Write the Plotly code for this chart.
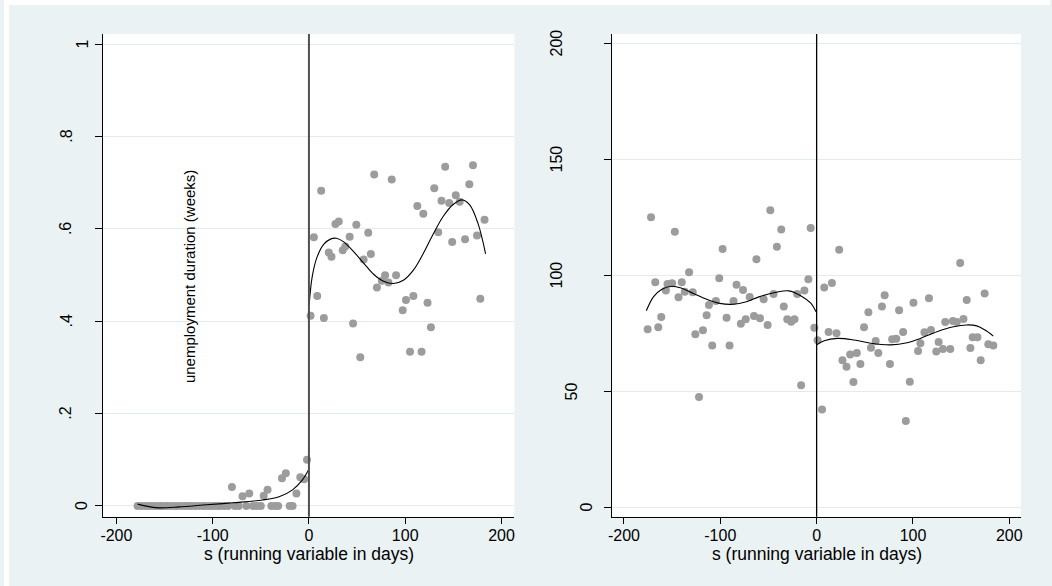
import plotly.graph_objects as go

# ---------------- data: left panel ----------------
s_left_neg = [-178, -174, -170, -167, -163, -159, -155, -152, -148, -144, -140, -137,
              -133, -129, -125, -122, -118, -114, -110, -107, -103, -99, -95, -92,
              -88, -84, -80, -77, -73, -69, -65, -62, -58, -54, -50, -47,
              -43, -39, -35, -32, -28, -24, -20, -17, -13, -9, -5, -2]
y_left_neg = [0, 0, 0, 0, 0, 0, 0, 0, 0, 0, 0, 0,
              0, 0, 0, 0, 0, 0, 0, 0, 0, 0, 0, 0,
              0, 0, 0.041, 0, 0, 0.021, 0, 0.027, 0, 0, 0, 0.022,
              0.035, 0, 0, 0, 0.060, 0.071, 0, 0, 0.027, 0.062, 0.058, 0.100]

s_left_pos = [1.7, 5.1, 8.6, 12.7, 15.5, 20.6, 23.4, 27.5, 31.0, 35.1, 37.8, 42.3,
              45.8, 49.2, 53.3, 56.8, 61.6, 64.3, 67.8, 70.6, 75.7, 79.1, 82.6, 86.0,
              90.5, 97.4, 100.8, 105.0, 108.5, 112.6, 117.0, 118.8, 123.2, 126.7, 130.2, 134.3,
              137.7, 141.5, 145.7, 148.8, 152.5, 156.6, 162.2, 166.6, 170.4, 174.6, 178.0, 182.4]
y_left_pos = [0.412, 0.582, 0.455, 0.683, 0.407, 0.549, 0.540, 0.611, 0.616, 0.554, 0.562, 0.583,
              0.395, 0.609, 0.322, 0.534, 0.592, 0.546, 0.718, 0.473, 0.488, 0.500, 0.484, 0.707,
              0.500, 0.424, 0.446, 0.334, 0.455, 0.650, 0.334, 0.633, 0.440, 0.387, 0.688, 0.593,
              0.661, 0.735, 0.656, 0.572, 0.673, 0.659, 0.578, 0.697, 0.738, 0.586, 0.449, 0.620]

fit_left_neg_x = [-178, -165, -155, -135, -110, -79, -48, -31, -17, -7, -0.5]
fit_left_neg_y = [0.004, -0.002, -0.004, -0.002, 0.002, 0.007, 0.013, 0.020, 0.035, 0.056, 0.078]
fit_left_pos_x = [0.2, 3.4, 8.6, 15.5, 22.3, 28.5, 36.1, 46.4, 56.8, 67.1, 77.4, 87.8,
                  98.1, 108.5, 118.8, 129.1, 139.4, 149.8, 159.1, 167.0, 175.6, 183.5]
fit_left_pos_y = [0.435, 0.497, 0.540, 0.567, 0.578, 0.580, 0.572, 0.551, 0.526, 0.502, 0.487, 0.482,
                  0.489, 0.511, 0.547, 0.589, 0.627, 0.653, 0.663, 0.652, 0.612, 0.546]

# ---------------- data: right panel ----------------
s_right_neg = [-175.4, -171.9, -167.5, -164.4, -161.3, -156.5, -154.8, -150.0, -147.2, -143.4,
               -140.0, -136.9, -132.4, -128.6, -125.9, -122.1, -118.0, -114.2, -111.8, -108.4,
               -104.6, -101.1, -97.6, -93.5, -90.4, -86.3, -83.2, -78.7, -76.4, -73.6,
               -69.5, -65.0, -62.5, -58.8, -55.0, -50.9, -48.1, -44.7, -41.3, -36.7,
               -34.1, -30.5, -26.4, -23.0, -20.2, -16.1, -12.7, -8.6, -6.2, -2.4]
y_right_neg = [76.7, 125.0, 97.0, 77.6, 82.0, 93.4, 96.3, 96.6, 118.8, 90.5,
               97.0, 92.9, 101.3, 92.7, 74.6, 47.5, 76.3, 82.8, 87.2, 69.7,
               88.9, 98.7, 111.3, 81.7, 69.7, 88.9, 95.9, 79.1, 93.7, 81.0,
               90.6, 82.5, 106.9, 81.5, 89.7, 78.6, 128.0, 91.9, 112.3, 119.7,
               86.6, 81.0, 80.0, 81.0, 91.9, 52.6, 93.4, 98.3, 120.4, 77.4]

s_right_pos = [1.0, 5.6, 7.9, 12.4, 15.9, 20.6, 23.4, 26.8, 31.0, 34.8, 38.2, 41.7, 45.4,
               49.2, 53.7, 56.4, 61.3, 64.0, 67.8, 70.6, 76.1, 78.4, 82.6, 85.6,
               89.8, 92.6, 96.7, 100.5, 105.3, 107.7, 111.9, 116.6, 118.7, 124.2,
               126.6, 131.1, 133.5, 138.7, 141.4, 145.5, 149.0, 152.4, 155.8, 159.6,
               162.0, 166.9, 170.3, 174.4, 178.2, 183.4]
y_right_pos = [72.0, 42.2, 94.7, 75.6, 96.7, 75.0, 111.0, 63.4, 60.6, 65.9, 54.0, 66.5, 61.8,
               77.6, 84.1, 68.8, 71.7, 66.5, 86.5, 91.4, 61.8, 72.4, 72.6, 84.9,
               75.6, 37.2, 54.1, 88.2, 67.4, 70.7, 75.4, 90.1, 76.4, 67.1,
               71.3, 68.2, 79.9, 68.2, 80.3, 79.9, 105.3, 81.2, 89.4, 68.7,
               73.3, 73.3, 63.4, 92.1, 70.3, 69.7]

fit_right_neg_x = [-176.8, -169.2, -160.6, -150.3, -140.0, -128.0, -114.2, -100.5,
                   -86.7, -72.9, -59.1, -41.9, -28.9, -16.1, -5.8, -0.6]
fit_right_neg_y = [84.7, 90.8, 94.0, 95.3, 94.4, 92.2, 89.7, 87.9,
                   87.5, 88.6, 90.8, 92.7, 93.3, 91.1, 87.9, 84.3]
fit_right_pos_x = [0, 7.9, 21.7, 38.9, 56.1, 76.8, 93.9, 107.7, 124.9, 142.1, 155.8, 166.2, 174.8, 183.4]
fit_right_pos_y = [70.0, 71.8, 72.8, 72.1, 70.7, 70.0, 70.9, 72.8, 75.7, 77.8, 78.6, 78.2, 76.4, 73.8]

left_ytick_vals = [0, 0.2, 0.4, 0.6, 0.8, 1]
left_ytick_text = ["0", ".2", ".4", ".6", ".8", "1"]
right_ytick_vals = [0, 50, 100, 150, 200]
right_ytick_text = ["0", "50", "100", "150", "200"]
xtick_vals = [-200, -100, 0, 100, 200]
xtick_text = ["-200", "-100", "0", "100", "200"]

x_title = "s (running variable in days)"
y_title_left = "unemployment duration (weeks)"

# ---------------- figure ----------------
W, H = 1052, 586
FONT = "Liberation Sans, Arial, sans-serif"
BG = "#EAF2F3"
GRID = "#E2ECEF"
MARK = "#9C9C9C"

fig = go.Figure()

def add_panel(xs_list, ys_list, fits, xa, ya):
    for xs, ys in zip(xs_list, ys_list):
        fig.add_trace(go.Scatter(x=xs, y=ys, mode="markers", xaxis=xa, yaxis=ya,
                                 marker=dict(color=MARK, size=8, line=dict(width=0)),
                                 showlegend=False, hoverinfo="skip"))
    for fx, fy in fits:
        fig.add_trace(go.Scatter(x=fx, y=fy, mode="lines", xaxis=xa, yaxis=ya,
                                 line=dict(color="black", width=1.1, shape="spline", smoothing=1.0),
                                 showlegend=False, hoverinfo="skip"))

add_panel([s_left_neg, s_left_pos], [y_left_neg, y_left_pos],
          [(fit_left_neg_x, fit_left_neg_y), (fit_left_pos_x, fit_left_pos_y)], "x", "y")
add_panel([s_right_neg, s_right_pos], [y_right_neg, y_right_pos],
          [(fit_right_neg_x, fit_right_neg_y), (fit_right_pos_x, fit_right_pos_y)], "x2", "y2")

ydom = [1 - 516.7 / H, 1 - 34 / H]
xdom1 = [99.7 / W, 513.3 / W]
xdom2 = [611.7 / W, 1022.7 / W]

xaxis_common = dict(tickmode="array", tickvals=xtick_vals, ticktext=xtick_text,
                    ticks="outside", ticklen=6, tickwidth=1, tickcolor="black",
                    showline=True, linecolor="black", linewidth=1,
                    showgrid=False, zeroline=False, ticklabelstandoff=-2,
                    tickfont=dict(family=FONT, size=16, color="black"))
yaxis_common = dict(tickmode="array", ticks="outside", ticklen=7, tickwidth=1, tickcolor="black",
                    showline=True, linecolor="black", linewidth=1,
                    showgrid=True, gridcolor=GRID, gridwidth=1.2, zeroline=False,
                    showticklabels=False)

fig.update_layout(
    width=W, height=H, autosize=False,
    margin=dict(l=0, r=0, t=0, b=0, pad=0),
    paper_bgcolor=BG, plot_bgcolor="white",
    font=dict(family=FONT, color="black"),
    xaxis=dict(xaxis_common, domain=xdom1, range=[-213.8, 213.4], anchor="y"),
    yaxis=dict(yaxis_common, domain=ydom, range=[-0.0232, 1.0223], tickvals=left_ytick_vals, anchor="x"),
    xaxis2=dict(xaxis_common, domain=xdom2, range=[-212.2, 212.0], anchor="y2"),
    yaxis2=dict(yaxis_common, domain=ydom, range=[-4.05, 204.0], tickvals=right_ytick_vals, anchor="x2"),
)

shapes = [
    # white 5px strip on top and left edges of the image
    dict(type="rect", xref="paper", yref="paper", x0=0, x1=1, y0=1 - 5 / H, y1=1,
         fillcolor="white", line=dict(width=0)),
    dict(type="rect", xref="paper", yref="paper", x0=0, x1=5 / W, y0=0, y1=1,
         fillcolor="white", line=dict(width=0)),
    # cutoff lines at s = 0
    dict(type="line", xref="x", yref="y domain", x0=0, x1=0, y0=0, y1=1,
         line=dict(color="#505050", width=2)),
    dict(type="line", xref="x2", yref="y2 domain", x0=0, x1=0, y0=0, y1=1,
         line=dict(color="black", width=1.3)),
]
fig.update_layout(shapes=shapes)

ann = []
# rotated y tick labels
for v, t in zip(left_ytick_vals, left_ytick_text):
    shift = -21 if len(t) == 1 else -37
    ann.append(dict(xref="x domain", yref="y", x=0, y=v, text=t, textangle=-90,
                    showarrow=False, xanchor="center", yanchor="middle", xshift=shift,
                    font=dict(family=FONT, size=16, color="black")))
for v, t in zip(right_ytick_vals, right_ytick_text):
    shift = {1: -26, 2: -41, 3: -56}[len(t)]
    ann.append(dict(xref="x2 domain", yref="y2", x=0, y=v, text=t, textangle=-90,
                    showarrow=False, xanchor="center", yanchor="middle", xshift=shift,
                    font=dict(family=FONT, size=16, color="black")))
# x titles
for xr in ["x domain", "x2 domain"]:
    ann.append(dict(xref=xr, yref="paper", x=0.5, y=1 - 554 / H, text=x_title,
                    showarrow=False, xanchor="center", yanchor="middle",
                    font=dict(family=FONT, size=17.5, color="black")))
# stray y title inside left panel
ann.append(dict(xref="x", yref="y", x=-124, y=0.497, text=y_title_left, textangle=-90,
                showarrow=False, xanchor="center", yanchor="middle",
                font=dict(family=FONT, size=15, color="black")))
fig.update_layout(annotations=ann)

fig.write_html("out.html", config={"displayModeBar": False},
               post_script="document.body.style.margin='0';document.body.style.overflow='hidden';")
